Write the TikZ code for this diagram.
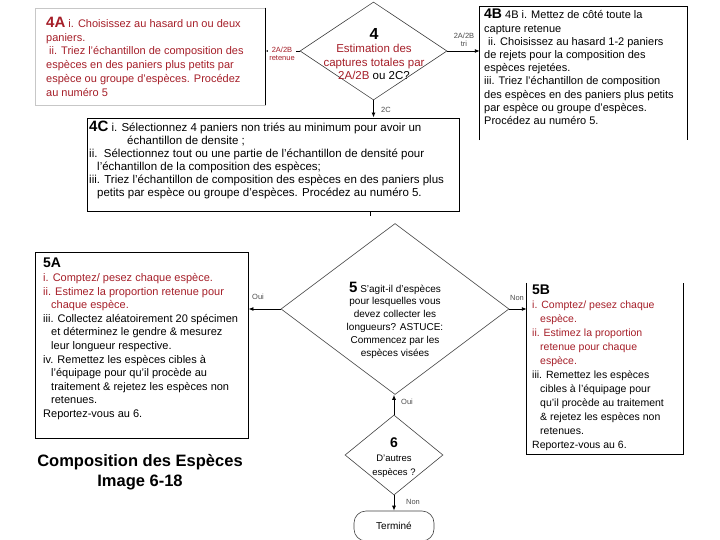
\documentclass[tikz,border=0pt]{standalone}
\usepackage{fontspec}
\setmainfont{Liberation Sans}
\usetikzlibrary{shapes.geometric,arrows.meta}
\definecolor{dred}{RGB}{165,30,40}
\begin{document}
\begin{tikzpicture}[x=1pt,y=-1pt,
  box/.style={draw=black,line width=0.9pt,inner sep=0},
  openbox/.style={draw=none,inner sep=0},
  dia/.style={diamond,draw=black!75,line width=0.6pt,inner sep=0},
  txt/.style={inner sep=0,align=left,anchor=north west},
  arr/.style={-{Latex[length=5pt,width=4pt]},line width=0.9pt},
  lbl/.style={font=\fontsize{7.5}{8}\selectfont,text=black!70,inner sep=1pt,align=center}]
\useasboundingbox (0,0) rectangle (720,540);
\clip (0,0) rectangle (720,540);

% ---- 4A
\node[draw=black!22,line width=0.6pt,inner sep=0,minimum width=230pt,minimum height=97pt] (b4A) at (150,56.5) {};
\draw[line width=0.9pt] (b4A.north east) -- (b4A.south east);
\node[txt,text=dred,font=\fontsize{11}{13.7}\selectfont] (t4A) at (46,17) {%
{\fontsize{15}{15}\selectfont\bfseries 4A} i. Choisissez au hasard un ou deux\\
paniers.\\
\hspace*{3pt}ii. Triez l'échantillon de composition des\\
espèces en des paniers plus petits par\\
espèce ou groupe d'espèces. Procédez\\
au numéro 5};

% ---- 4 diamond
\node[dia,minimum width=147pt,minimum height=98pt] (d4) at (373.5,51) {};
\node[inner sep=0,align=center,font=\fontsize{11.5}{13.5}\selectfont] (t4) at (374,54) {%
{\fontsize{16}{16}\selectfont\bfseries 4}\\
\textcolor{dred}{Estimation des}\\
\textcolor{dred}{captures totales par}\\
\textcolor{dred}{2A/2B} ou 2C?};

% ---- 4B
\node[openbox,minimum width=207pt,minimum height=133pt] (b4B) at (583.5,73.5) {};
\draw[line width=0.9pt] (b4B.south west) -- (b4B.north west) -- (b4B.north east) -- (b4B.south east);
\node[txt,font=\fontsize{11}{13.2}\selectfont] (t4B) at (484,9) {%
{\fontsize{14}{14}\selectfont\bfseries 4B} 4B i. Mettez de côté toute la\\
capture retenue\\
\hspace*{4pt}ii. Choisissez au hasard 1-2 paniers\\
de rejets pour la composition des\\
espèces rejetées.\\
iii. Triez l'échantillon de composition\\
des espèces en des paniers plus petits\\
par espèce ou groupe d'espèces.\\
Procédez au numéro 5.};

% ---- 4C
\node[box,minimum width=372pt,minimum height=93pt] (b4C) at (273,164.5) {};
\node[txt,font=\fontsize{11.5}{13}\selectfont] (t4C) at (89,121) {%
{\fontsize{15}{15}\selectfont\bfseries 4C} i. Sélectionnez 4 paniers non triés au minimum pour avoir un\\
\hspace*{38pt}échantillon de densite ;\\
ii.\ \ Sélectionnez tout ou une partie de l'échantillon de densité pour\\
\hspace*{8pt}l'échantillon de la composition des espèces;\\
iii. Triez l'échantillon de composition des espèces en des paniers plus\\
\hspace*{8pt}petits par espèce ou groupe d'espèces. Procédez au numéro 5.};
\draw[line width=0.6pt] ([xshift=97pt]b4C.south) -- ++(0,5);

% ---- connectors from 4
\draw[arr] (d4.west) -- (d4.west -| b4A.east);
\node[lbl,text=dred,fill=white] (l4A) at (282,54) {2A/2B\\retenue};
\draw[arr] (d4.east) -- (d4.east -| b4B.west);
\node[lbl] (l4B) at (464,40) {2A/2B\\tri};
\draw[arr] (d4.south) -- (d4.south |- b4C.north);
\node[lbl] (l4C) at (386,110) {2C};

% ---- 5 diamond
\node[dia,minimum width=228pt,minimum height=171pt] (d5) at (395,309) {};
\node[inner sep=0,align=center,font=\fontsize{10}{12.8}\selectfont] (t5) at (395,320) {%
{\fontsize{15}{15}\selectfont\bfseries 5} S'agit-il d'espèces\\
pour lesquelles vous\\
devez collecter les\\
longueurs? ASTUCE:\\
Commencez par les\\
espèces visées};

% ---- 5A
\node[box,minimum width=213pt,minimum height=186pt] (b5A) at (141.5,345) {};
\node[txt,font=\fontsize{11}{13.6}\selectfont] (t5A) at (43,258) {%
{\fontsize{14}{14}\selectfont\bfseries 5A}\\
\textcolor{dred}{i. Comptez/ pesez chaque espèce.}\\
\textcolor{dred}{ii. Estimez la proportion retenue pour}\\
\hspace*{8pt}\textcolor{dred}{chaque espèce.}\\
iii. Collectez aléatoirement 20 spécimen\\
\hspace*{8pt}et déterminez le gendre \& mesurez\\
\hspace*{8pt}leur longueur respective.\\
iv. Remettez les espèces cibles à\\
\hspace*{8pt}l'équipage pour qu'il procède au\\
\hspace*{8pt}traitement \& rejetez les espèces non\\
\hspace*{8pt}retenues.\\
Reportez-vous au 6.};

% ---- 5B
\node[openbox,minimum width=156pt,minimum height=171pt] (b5B) at (605,368.5) {};
\draw[line width=0.9pt] (b5B.north west) -- (b5B.south west) -- (b5B.south east) -- (b5B.north east);
\node[txt,font=\fontsize{10.5}{14}\selectfont] (t5B) at (532,285) {%
{\fontsize{14}{14}\selectfont\bfseries 5B}\\
\textcolor{dred}{i. Comptez/ pesez chaque}\\
\hspace*{8pt}\textcolor{dred}{espèce.}\\
\textcolor{dred}{ii. Estimez la proportion}\\
\hspace*{8pt}\textcolor{dred}{retenue pour chaque}\\
\hspace*{8pt}\textcolor{dred}{espèce.}\\
iii. Remettez les espèces\\
\hspace*{8pt}cibles à l'équipage pour\\
\hspace*{8pt}qu'il procède au traitement\\
\hspace*{8pt}\& rejetez les espèces non\\
\hspace*{8pt}retenues.\\
Reportez-vous au 6.};

% ---- connectors from 5
\draw[arr] (d5.west) -- (d5.west -| b5A.east);
\node[lbl] (l5A) at (258,297) {Oui};
\draw[arr] (d5.east) -- (d5.east -| b5B.west);
\node[lbl] (l5B) at (517,298) {Non};

% ---- 6 diamond
\node[dia,minimum width=98pt,minimum height=80pt] (d6) at (394,455) {};
\node[inner sep=0,align=center,font=\fontsize{9.5}{14}\selectfont] (t6) at (394,458) {%
{\fontsize{14}{14}\selectfont\bfseries 6}\\
D'autres\\
espèces ?};
\draw[arr] (d6.north) -- (d6.north |- d5.south);
\node[lbl] (l6a) at (407,402) {Oui};

% ---- Terminé
\node[draw=black!75,line width=0.6pt,rounded corners=12pt,minimum width=80pt,minimum height=30pt,inner sep=0,font=\fontsize{10}{12}\selectfont] (term) at (394,526) {Terminé};
\draw[arr] (d6.south) -- (term.north);
\node[lbl] (l6b) at (413,502) {Non};

% ---- caption
\node[inner sep=0,align=center,font=\fontsize{16.5}{20}\selectfont\bfseries] (cap) at (140,472) {Composition des Espèces\\Image 6-18};
\end{tikzpicture}
\end{document}
